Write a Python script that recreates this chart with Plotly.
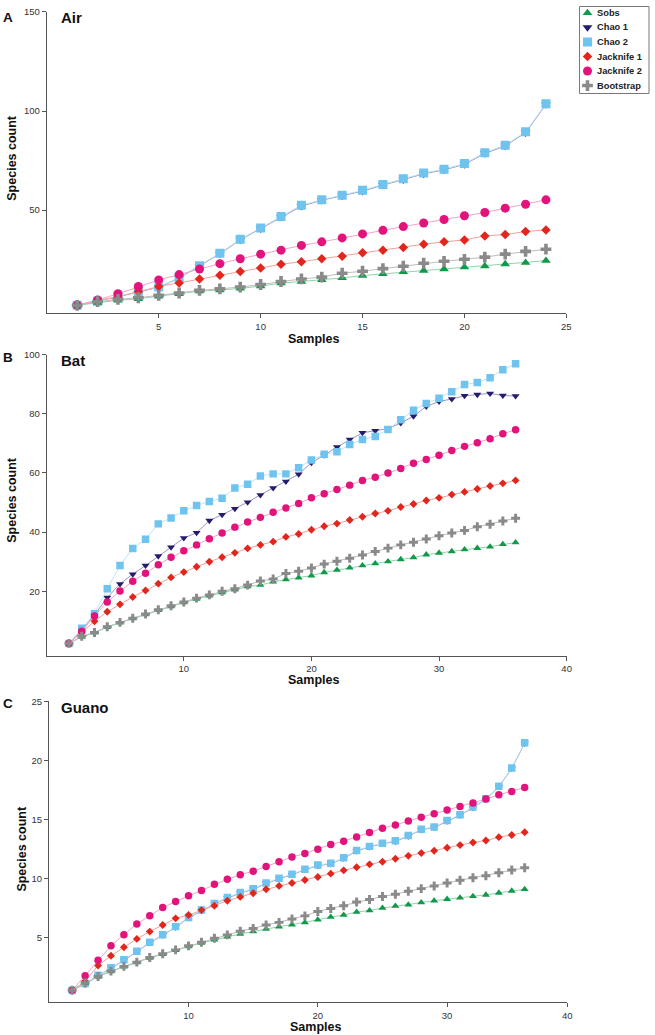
import plotly.graph_objects as go

# ---------------- data ----------------
series_names = ["Sobs", "Chao 1", "Chao 2", "Jacknife 1", "Jacknife 2", "Bootstrap"]

# Panel A (Air)
air_samples = list(range(1, 25))
air_sobs = [2, 3.3, 4.5, 5.3, 6.5, 7.8, 9.2, 9.7, 10.5, 11.7, 13.2, 14, 14.8, 15.8, 17, 17.8, 18.8, 19.5, 20.3, 21.2, 21.8, 22.8, 23.5, 24.5]
air_chao1 = [2, 4, 6.3, 8.8, 11, 15.7, 21.7, 28, 35, 40.6, 46.4, 52, 55, 57.2, 59.6, 62.6, 65.4, 68.3, 70.3, 73.1, 78.6, 82.4, 89.1, 103.3]
air_chao2 = [2, 4, 6.5, 9, 11.2, 16, 22, 28.3, 35.3, 41, 46.8, 52.5, 55.3, 57.5, 60, 63, 65.8, 68.7, 70.7, 73.5, 79, 82.8, 89.5, 103.7]
air_jack1 = [2, 4.5, 6.2, 9, 11.5, 13.3, 15.3, 17.2, 19, 20.8, 22.7, 24, 25.5, 26.8, 28.5, 29.8, 31.2, 32.8, 34, 35, 37, 37.7, 39.2, 40]
air_jack2 = [2, 4.7, 7.8, 11.5, 14.8, 17.5, 20.3, 23, 25.5, 27.8, 29.8, 32.2, 34, 36, 38, 39.8, 41.7, 43.5, 45.3, 47.2, 48.8, 51, 53, 55.2]
air_boot = [2, 3.8, 5, 5.8, 7, 8.2, 9.5, 10.3, 11.2, 12.5, 14, 15.3, 16.2, 18.2, 19.2, 20.5, 21.7, 23.2, 24.2, 25.2, 26.3, 27.8, 29.2, 30.3]

# Panel B (Bat)
bat_samples = list(range(1, 37))
bat_sobs = [2.4, 4.6, 6.0, 7.9, 9.4, 10.8, 12.2, 13.6, 14.9, 16.2, 17.4, 18.5, 19.6, 20.5, 21.6, 22.1, 23.2, 24, 24.6, 25.3, 26.4, 27.2, 28, 28.7, 29.4, 30.1, 30.8, 31.4, 32.4, 33, 33.5, 34.1, 34.6, 35.1, 35.9, 36.5]
bat_chao1 = [2.4, 7.0, 12, 17.9, 22.5, 25.8, 28.7, 31.9, 34.9, 38, 39.8, 43.9, 45.9, 47.9, 50.1, 52.6, 54.9, 57.1, 59.6, 63.5, 66, 68.8, 71.3, 73.6, 74.3, 75, 76.9, 79.2, 82.5, 84.2, 85, 86.1, 86.5, 86.9, 86.2, 86]
bat_chao2 = [2.4, 7.5, 12.4, 20.9, 28.7, 34.5, 37.6, 42.8, 44.8, 47.2, 49, 50.4, 51.5, 54.9, 56.2, 59, 59.7, 59.7, 61.8, 64.4, 66.3, 67.2, 69.6, 71.3, 72.3, 74.7, 78, 81.2, 83.5, 85.3, 87.5, 89.9, 90.6, 92.2, 94.9, 96.9]
bat_jack1 = [2.4, 6, 9.9, 13.1, 15.6, 18.1, 20.3, 22.6, 24.7, 26.5, 28.3, 30, 31.5, 33, 34.5, 35.7, 36.8, 38.4, 39.4, 40.8, 42, 42.9, 44.1, 45.2, 46.3, 47.2, 48.5, 49.5, 50.7, 51.6, 52.7, 53.6, 54.6, 55.6, 56.5, 57.5]
bat_jack2 = [2.4, 6.5, 11.7, 16.4, 20.1, 23.4, 26.1, 29, 31.5, 33.7, 35.7, 37.8, 39.7, 41.7, 43.4, 45, 46.7, 48.2, 49.7, 51.6, 53, 54.4, 55.9, 57.5, 58.6, 60, 61.5, 63.3, 64.6, 66, 67.6, 69, 70.2, 71.6, 73.3, 74.6]
bat_boot = [2.4, 4.8, 6.1, 8, 9.5, 10.9, 12.3, 13.8, 15.1, 16.4, 17.7, 18.8, 20, 20.9, 22.1, 23.5, 24.2, 26, 26.8, 27.9, 29.2, 30.2, 31.2, 32.3, 33.5, 34.6, 35.7, 36.6, 37.7, 38.8, 39.7, 40.6, 41.8, 42.7, 43.8, 44.7]

# Panel C (Guano)
guano_samples = list(range(1, 37))
guano_sobs = [0.5, 1.1, 1.65, 2.1, 2.5, 2.85, 3.25, 3.55, 3.9, 4.22, 4.52, 4.78, 5.05, 5.28, 5.48, 5.7, 5.9, 6.07, 6.25, 6.48, 6.71, 6.88, 7.14, 7.27, 7.47, 7.64, 7.75, 7.94, 8.09, 8.23, 8.34, 8.48, 8.59, 8.76, 8.93, 9.07]
guano_chao1 = [0.5, 1.03, 1.72, 2.37, 3.04, 3.77, 4.53, 5.17, 5.85, 6.63, 7.25, 7.81, 8.32, 8.74, 9.07, 9.55, 9.95, 10.29, 10.72, 11.07, 11.22, 11.69, 12.31, 12.65, 12.92, 13.12, 13.57, 14.1, 14.3, 14.84, 15.34, 15.98, 16.69, 17.75, 19.3, 21.43]
guano_chao2 = [0.5, 1.07, 1.77, 2.42, 3.09, 3.82, 4.58, 5.22, 5.9, 6.68, 7.3, 7.86, 8.37, 8.79, 9.12, 9.6, 10.0, 10.34, 10.77, 11.12, 11.27, 11.74, 12.36, 12.7, 12.97, 13.17, 13.62, 14.15, 14.35, 14.89, 15.39, 16.03, 16.74, 17.8, 19.35, 21.48]
guano_jack1 = [0.5, 1.26, 2.61, 3.43, 4.15, 4.86, 5.48, 6.04, 6.6, 6.88, 7.3, 7.67, 8.09, 8.42, 8.73, 9.07, 9.35, 9.6, 9.85, 10.1, 10.39, 10.67, 10.93, 11.18, 11.4, 11.65, 11.9, 12.13, 12.33, 12.58, 12.81, 13.03, 13.2, 13.48, 13.67, 13.9]
guano_jack2 = [0.5, 1.74, 3.06, 4.27, 5.22, 6.12, 6.82, 7.52, 8.03, 8.51, 8.96, 9.49, 9.91, 10.3, 10.6, 11.0, 11.4, 11.8, 12.1, 12.45, 12.86, 13.14, 13.5, 13.87, 14.24, 14.52, 14.86, 15.17, 15.47, 15.78, 16.09, 16.37, 16.71, 17.07, 17.35, 17.69]
guano_boot = [0.5, 1.12, 1.68, 2.13, 2.53, 2.89, 3.29, 3.6, 3.93, 4.27, 4.58, 4.91, 5.2, 5.5, 5.75, 6.04, 6.26, 6.55, 6.81, 7.19, 7.44, 7.67, 7.98, 8.2, 8.45, 8.65, 8.9, 9.12, 9.35, 9.6, 9.83, 10.05, 10.22, 10.47, 10.7, 10.89]

panel_letters = ["A", "B", "C"]
panel_titles = ["Air", "Bat", "Guano"]
air_yticks = [50, 100, 150]
bat_yticks = [20, 40, 60, 80, 100]
guano_yticks = [5, 10, 15, 20, 25]
air_xticks = [5, 10, 15, 20, 25]
bat_xticks = [10, 20, 30, 40]
guano_xticks = [10, 20, 30]
guano_xtick_labels = ["10", "20", "30"]

# ---------------- styling ----------------
W, H = 655, 1035
FONT = "Liberation Sans, Arial, sans-serif"
styles = {
    "Sobs":       dict(symbol="triangle-up",   color="#11994a", line="#8fd4a9"),
    "Chao 1":     dict(symbol="triangle-down", color="#241c6e", line="#9a96c4"),
    "Chao 2":     dict(symbol="square",        color="#6ec3ef", line="#bde4f7"),
    "Jacknife 1": dict(symbol="diamond",       color="#e2251d", line="#f2a098"),
    "Jacknife 2": dict(symbol="circle",        color="#e2147c", line="#f4a2c6"),
    "Bootstrap":  dict(symbol="cross",         color="#8a8a8a", line="#bdbdbd"),
}
draw_order = ["Chao 1", "Chao 2", "Jacknife 1", "Jacknife 2", "Sobs", "Bootstrap"]

def msize(name, big):
    base = {"triangle-up": 8.5, "triangle-down": 8.5, "square": 9, "diamond": 7.3,
            "circle": 9, "cross": 9}[styles[name]["symbol"]]
    return base if big else base * 0.83

panels = [
    dict(x=air_samples, ys={"Sobs": air_sobs, "Chao 1": air_chao1, "Chao 2": air_chao2,
         "Jacknife 1": air_jack1, "Jacknife 2": air_jack2, "Bootstrap": air_boot},
         px_x=(47, 570.7), px_y=(6, 309), xr=[-0.5, 25], yr=[-2, 150],
         xt=air_xticks, xtl=[str(v) for v in air_xticks], yt=air_yticks, big=True,
         ytitle_x=12.7, ytitle_y=153, xtitle_y=335, letter_y=12, title_y=12),
    dict(x=bat_samples, ys={"Sobs": bat_sobs, "Chao 1": bat_chao1, "Chao 2": bat_chao2,
         "Jacknife 1": bat_jack1, "Jacknife 2": bat_jack2, "Bootstrap": bat_boot},
         px_x=(47, 571), px_y=(350.7, 653.3), xr=[-0.75, 40], yr=[-1.7, 100],
         xt=bat_xticks, xtl=[str(v) for v in bat_xticks], yt=bat_yticks, big=False,
         ytitle_x=12.7, ytitle_y=497, xtitle_y=678, letter_y=354, title_y=357),
    dict(x=guano_samples, ys={"Sobs": guano_sobs, "Chao 1": guano_chao1, "Chao 2": guano_chao2,
         "Jacknife 1": guano_jack1, "Jacknife 2": guano_jack2, "Bootstrap": guano_boot},
         px_x=(49.3, 571.7), px_y=(699.3, 1002.3), xr=[-0.8, 39.3], yr=[-0.53, 25],
         xt=guano_xticks + [39.3], xtl=guano_xtick_labels + ["40"], yt=guano_yticks, big=False,
         ytitle_x=22.7, ytitle_y=848, xtitle_y=1027, letter_y=702, title_y=706),
]

fig = go.Figure()
annotations = []
axis_color = "#555555"

for i, p in enumerate(panels):
    k = "" if i == 0 else str(i + 1)
    xa, ya = "x" + k, "y" + k
    for name in draw_order:
        st = styles[name]
        fig.add_trace(go.Scatter(
            x=p["x"], y=p["ys"][name], xaxis=xa, yaxis=ya, mode="lines+markers",
            name=name, showlegend=False,
            line=dict(color=st["line"], width=1),
            marker=dict(symbol=st["symbol"], color=st["color"], size=msize(name, p["big"]),
                        line=dict(width=0)),
        ))
    xdom = [p["px_x"][0] / W, p["px_x"][1] / W]
    ydom = [1 - p["px_y"][1] / H, 1 - p["px_y"][0] / H]
    common = dict(showgrid=False, zeroline=False, showline=True, linecolor=axis_color,
                  linewidth=1, ticks="outside", ticklen=4, tickcolor=axis_color,
                  tickfont=dict(family=FONT, size=9.5, color="#333333"))
    fig.layout["xaxis" + k] = dict(domain=xdom, range=p["xr"], tickmode="array",
                                   tickvals=p["xt"], ticktext=p["xtl"], anchor=ya, **common)
    fig.layout["yaxis" + k] = dict(domain=ydom, range=p["yr"], tickmode="array",
                                   tickvals=p["yt"], anchor=xa, **common)
    cx = (p["px_x"][0] + p["px_x"][1]) / 2 + 7
    annotations.append(dict(text="Samples", x=cx / W, y=1 - p["xtitle_y"] / H, xref="paper",
                            yref="paper", showarrow=False, xanchor="center", yanchor="middle",
                            font=dict(family=FONT, size=12.5, color="#111111", weight="bold")))
    annotations.append(dict(text="Species count", x=p["ytitle_x"] / W, y=1 - p["ytitle_y"] / H,
                            xref="paper", yref="paper", showarrow=False, textangle=-90,
                            xanchor="center", yanchor="middle",
                            font=dict(family=FONT, size=12.5, color="#111111", weight="bold")))
    annotations.append(dict(text=panel_letters[i], x=1 / W, y=1 - p["letter_y"] / H,
                            xref="paper", yref="paper", showarrow=False, xanchor="left",
                            yanchor="middle",
                            font=dict(family=FONT, size=13.5, color="#111111", weight="bold")))
    annotations.append(dict(text=panel_titles[i], x=59 / W, y=1 - p["title_y"] / H,
                            xref="paper", yref="paper", showarrow=False, xanchor="left",
                            yanchor="middle",
                            font=dict(family=FONT, size=15, color="#111111", weight="bold")))

# ---------------- custom compact legend ----------------
leg_left, leg_right, leg_top, leg_bottom = 584, 654, 0.5, 88
fig.layout["xaxis4"] = dict(domain=[leg_left / W, leg_right / W], range=[0, leg_right - leg_left],
                            visible=False, fixedrange=True, anchor="y4")
fig.layout["yaxis4"] = dict(domain=[1 - leg_bottom / H, 1 - leg_top / H],
                            range=[leg_bottom - leg_top, 0], visible=False, fixedrange=True,
                            anchor="x4")
for j, name in enumerate(series_names):
    st = styles[name]
    yy = 6.5 + 14.6 * j
    fig.add_trace(go.Scatter(x=[8], y=[yy], xaxis="x4", yaxis="y4", mode="markers",
                             showlegend=False, hoverinfo="skip",
                             marker=dict(symbol=st["symbol"], color=st["color"],
                                         size=msize(name, True), line=dict(width=0))))
    annotations.append(dict(text=name, x=16, y=yy, xref="x4", yref="y4", showarrow=False,
                            xanchor="left", yanchor="middle",
                            font=dict(family=FONT, size=9.3, color="#222222", weight="bold")))

fig.update_layout(
    width=W, height=H, margin=dict(l=0, r=0, t=0, b=0),
    paper_bgcolor="white", plot_bgcolor="white",
    annotations=annotations, showlegend=False,
    shapes=[dict(type="rect", xref="paper", yref="paper",
                 x0=leg_left / W, x1=leg_right / W, y0=1 - leg_bottom / H, y1=1 - leg_top / H,
                 line=dict(color="#777777", width=1), fillcolor="rgba(0,0,0,0)")],
)

fig.write_html(
    "out.html",
    config={"displayModeBar": False},
    post_script="document.body.style.margin='0';document.body.style.overflow='hidden';",
)
